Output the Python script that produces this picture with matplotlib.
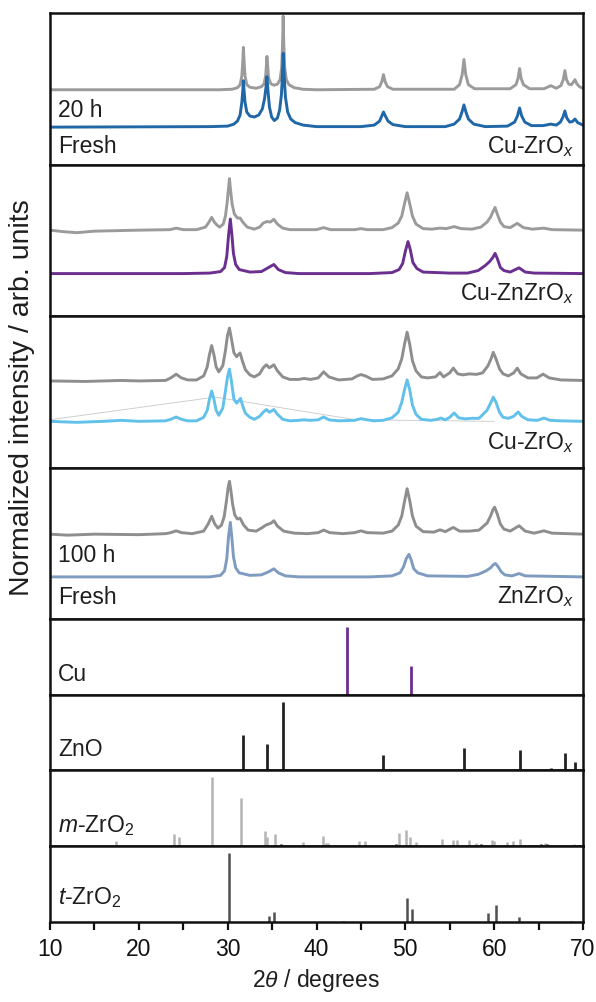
import matplotlib
matplotlib.use("Agg")
import matplotlib.pyplot as plt
from matplotlib.ticker import MultipleLocator

plt.rcParams['font.family'] = ['Liberation Sans', 'DejaVu Sans']
plt.rcParams['mathtext.fontset'] = 'custom'
plt.rcParams['mathtext.rm'] = 'Liberation Sans'
plt.rcParams['mathtext.it'] = 'Liberation Sans:italic'

# ---------------- data (2theta in degrees, intensity in arb. units) ----------------
# Panel 1: Cu-ZrOx, 20 h (grey) and fresh (blue)
cuzr20_tt = [10, 29, 30.5, 31.1, 31.4, 31.6, 31.7, 31.77, 31.85, 31.95, 32.15, 32.5, 33.2, 33.8, 34.1,
             34.28, 34.36, 34.42, 34.5, 34.6, 34.85, 35.2, 35.6, 35.9, 36.08, 36.18, 36.25, 36.32,
             36.42, 36.6, 36.9, 37.5, 38.5, 40, 46.5, 47.1, 47.35, 47.54, 47.72, 48.0, 48.6, 55.5,
             56.1, 56.4, 56.6, 56.8, 57.1, 57.8, 61.8, 62.45, 62.68, 62.86, 63.04, 63.3, 64, 65.6,
             66.38, 67.0, 67.5, 67.78, 67.96, 68.14, 68.4, 68.7, 68.95, 69.1, 69.3, 69.6, 70]
cuzr20_int = [0, 0, 0.5, 2, 5, 14, 28, 42, 28, 14, 5, 2.5, 1.5, 3, 6,
              14, 24, 33, 24, 12, 6, 4.5, 5.5, 10, 22, 45, 73, 45,
              22, 10, 5, 2, 0.5, 0, 0.5, 3, 8, 15, 8, 3, 0.5, 0.5,
              5, 15, 30, 15, 5, 1, 1, 5, 11, 21, 11, 5, 1, 1,
              4, 1.5, 4, 10, 19, 10, 5.5, 5, 8, 10, 6, 3, 1.5]
cuzrf_tt = [10, 28, 30.0, 30.7, 31.1, 31.4, 31.6, 31.7, 31.77, 31.85, 31.95, 32.15, 32.5, 33.0, 33.5,
            33.9, 34.15, 34.32, 34.42, 34.52, 34.7, 34.95, 35.25, 35.6, 35.85, 36.05, 36.17, 36.25,
            36.35, 36.5, 36.75, 37.1, 37.6, 38.5, 40, 45, 46.5, 47.1, 47.35, 47.54, 47.75, 48.05,
            48.6, 50, 54.5, 55.5, 56.1, 56.38, 56.6, 56.82, 57.1, 57.7, 59, 61.5, 62.3, 62.62,
            62.86, 63.1, 63.45, 64.2, 65.5, 66.38, 67.0, 67.45, 67.75, 67.96, 68.18, 68.5, 68.8,
            69.1, 69.4, 70]
cuzrf_int = [0, 0.5, 1, 3, 6, 12, 25, 36, 46, 36, 25, 15, 11, 10, 12,
             18, 28, 40, 50, 38, 20, 10, 6.5, 9, 17, 32, 52, 73,
             52, 30, 15, 8, 4.5, 2, 0.5, 0.5, 2, 6, 11, 15, 11, 6,
             2.5, 0.5, 0.5, 3, 8, 15, 22, 15, 8, 3, 0.5, 1, 5, 11,
             19, 11, 5, 1.5, 1.5, 3, 2, 5, 10, 16, 9, 5, 5.5,
             8, 4.5, 2]

# Panel 2: Cu-ZnZrOx, used (grey) and fresh (purple)
cuznzr_u_tt = [10, 11.5, 13, 15, 20, 23.5, 24.2, 25, 26.5, 27.5, 27.9, 28.2, 28.5, 28.8, 29.1, 29.5,
               29.75, 29.95, 30.1, 30.2, 30.32, 30.5, 30.75, 31.1, 31.4, 31.7, 32.2, 33, 33.6, 34.0,
               34.4, 34.8, 35.2, 35.6, 36.2, 37, 40, 40.8, 41.6, 44.3, 45.0, 45.7, 47.5, 48.5, 49.2,
               49.6, 49.9, 50.2, 50.5, 50.8, 51.2, 52, 53, 53.9, 54.6, 55.5, 56.3, 57.5, 58.5, 59.2,
               59.6, 59.85, 60.1, 60.35, 60.7, 61.1, 61.8, 62.6, 63.3, 64.3, 65.6, 66.5, 70]
cuznzr_u_int = [0, -1.5, -2.5, -1, 0, 0.5, 2, 0.5, 0.5, 3, 8, 12.7, 8, 5, 3, 6,
                14, 28, 42, 51, 40, 26, 16, 12, 12, 8, 3, 1, 3, 7,
                8.5, 8, 10.7, 6, 2, 0.5, 0.5, 2.5, 0.5, 0.5, 1.5, 0.5, 0.5, 2.5, 7,
                14, 26, 37, 26, 14, 6, 1.5, 1, 2, 1.5, 3.5, 1.5, 1, 3, 8,
                13, 18, 22.5, 16, 8, 3.5, 2.5, 6.7, 2.5, 1, 2, 0.5, 0]
cuznzr_f_tt = [10, 25, 28, 29.2, 29.65, 29.9, 30.1, 30.3, 30.48, 30.65, 30.9, 31.3, 32.5, 33.8, 34.6,
               35.2, 35.7, 36.5, 38, 46, 48.5, 49.3, 49.7, 50.0, 50.3, 50.55, 50.85, 51.3, 52, 55,
               57, 58.2, 59.0, 59.5, 59.85, 60.1, 60.35, 60.7, 61.1, 61.8, 62.8, 63.5, 64.5, 70]
cuznzr_f_int = [0, 0, 0.5, 2, 6, 17, 38, 54, 38, 20, 9, 4, 1.5, 2, 6,
                9, 4, 1, 0, 0, 1, 4, 10, 22, 31.7, 24, 11, 5, 1.5, 0.5,
                0.5, 3, 8, 12, 16, 20, 15, 6, 3, 1.5, 5.7, 1.5, 0.5, 0]

# Panel 3: Cu-ZrOx, used (grey) and fresh (light blue)
cuzrox_u_tt = [10, 14, 18, 20, 23, 23.6, 24.2, 24.8, 25.5, 26.5, 27.3, 27.7, 27.95, 28.2, 28.45, 28.7,
               29.0, 29.45, 29.75, 29.98, 30.2, 30.42, 30.7, 31.0, 31.2, 31.4, 31.65, 32.0, 32.5, 33,
               33.6, 34.0, 34.35, 34.7, 35.2, 35.6, 36.2, 37, 38.0, 38.6, 39.3, 40.2, 40.8, 41.4,
               42.5, 44, 44.6, 45.0, 45.5, 46.3, 47.5, 48.5, 49.2, 49.6, 49.9, 50.2, 50.5, 50.8,
               51.2, 51.8, 52.5, 53.4, 53.9, 54.3, 55.0, 55.4, 55.9, 56.5, 57.2, 58.0, 58.7, 59.3,
               59.65, 59.9, 60.2, 60.6, 61.0, 61.6, 62.2, 62.6, 63.0, 63.8, 64.8, 65.5, 66.2, 67.5, 70]
cuzrox_u_int = [0, -0.5, 0.5, 0, 0.5, 3, 6.7, 3, 1, 1, 5, 14, 26, 35, 26, 14,
                9, 15, 30, 45, 52.3, 42, 28, 24, 26, 27.7, 20, 11, 6, 4,
                7, 13, 16, 13, 16, 10, 4, 1.5, 1.5, 2.5, 1.5, 3, 9, 4,
                1, 2, 5, 6.3, 5, 1.5, 2, 5, 12, 22, 36, 48.3, 36, 20,
                10, 4, 3, 4, 8.3, 4, 8, 12.7, 7, 6, 7, 6.5, 8, 15,
                22, 28.3, 22, 12, 7, 5, 8, 12.7, 7, 3, 3, 6.7, 3, 1, 0.5]
cuzrox_f_tt = [10, 13, 16, 18, 20, 23, 23.6, 24.2, 24.8, 25.5, 26.5, 27.3, 27.7, 27.95, 28.2, 28.45,
               28.7, 29.0, 29.45, 29.75, 29.98, 30.2, 30.42, 30.7, 31.0, 31.2, 31.45, 31.7, 32.0,
               32.5, 33, 33.6, 34.0, 34.35, 34.7, 35.2, 35.6, 36.2, 37, 38.0, 38.6, 39.3, 40.2, 40.8,
               41.4, 42.5, 44.3, 45.0, 45.7, 46.5, 47.5, 48.5, 49.2, 49.6, 49.9, 50.2, 50.5, 50.8,
               51.2, 51.8, 52.8, 53.6, 54.0, 54.5, 55.0, 55.5, 56.0, 56.7, 57.5, 58.3, 59.2, 59.6,
               59.9, 60.2, 60.6, 61.0, 61.6, 62.2, 62.7, 63.1, 63.8, 64.9, 65.6, 66.3, 67.5, 70]
cuzrox_f_int = [0, -1, 0, 1, 0, 0.5, 2, 4.3, 2, 0.5, 0.5, 4, 11, 22, 30, 22,
                11, 6, 13, 30, 44, 51.7, 40, 22, 18, 20, 22.7, 15, 8,
                4, 2, 5, 9, 11.7, 9, 11.7, 7, 2, 0.5, 1, 1.5, 1, 1.5, 4.3,
                1.5, 0.5, 1, 2.7, 1.5, 0.5, 1, 3.5, 9, 19, 31, 41, 31, 16,
                7, 2, 1, 2, 3.3, 1.5, 4, 8.3, 3.5, 2.5, 3, 3, 11, 18,
                24, 19, 9, 4, 3, 5, 9.3, 5, 1.5, 1, 3.3, 1, 0.5, 0]
# thin guide line seen in panel 3
guide_tt = [10, 28.6, 44.4, 60.0]
guide_int = [47.3, 69.7, 47.3, 45.7]

# Panel 4: ZnZrOx, 100 h (grey) and fresh (slate blue)
znzr_u_tt = [10, 12, 15, 20, 23, 23.6, 24.2, 24.8, 26, 27.3, 27.8, 28.2, 28.55, 28.9, 29.3, 29.6,
             29.85, 30.05, 30.2, 30.35, 30.55, 30.8, 31.1, 31.4, 31.8, 32.3, 33.2, 33.8, 34.3, 34.6,
             34.9, 35.2, 35.6, 36.3, 37.5, 39, 40.2, 40.8, 41.5, 43, 44.3, 45.0, 45.7, 47.5, 48.5,
             49.2, 49.6, 49.9, 50.2, 50.5, 50.8, 51.2, 52, 53.2, 53.9, 54.5, 55.4, 56.1, 57.2, 58.3,
             59.2, 59.6, 59.85, 60.05, 60.35, 60.7, 61.1, 61.8, 62.8, 63.5, 64.5, 65.6, 66.5, 70]
znzr_u_int = [0, -1, 0, -0.5, 0.5, 1.5, 3.3, 1.5, 0.5, 3, 10, 17.7, 10, 6, 9, 17,
              32, 46, 52.3, 44, 30, 19, 15, 15.7, 9, 4, 3, 6, 9, 10,
              11, 13.3, 8, 3, 1, 0.5, 1.5, 4, 1.5, 0.5, 1.5, 3.3, 1.5, 1, 3,
              9, 18, 32, 45, 33, 18, 8, 2.5, 2, 4.3, 2.5, 6.7, 3, 3, 4,
              11, 18, 24, 26.7, 20, 10, 5, 3, 8.3, 3, 1, 3.3, 1, 0]
znzr_f_tt = [10, 28, 29.2, 29.65, 29.9, 30.1, 30.3, 30.48, 30.65, 30.9, 31.3, 32.5, 33.8, 34.6, 35.2,
             35.7, 36.5, 38, 46, 48.5, 49.4, 49.8, 50.1, 50.4, 50.65, 50.95, 51.4, 52.5, 57, 58.2,
             59.1, 59.6, 59.9, 60.15, 60.45, 60.8, 61.2, 62.0, 62.8, 63.5, 70]
znzr_f_int = [0, 0, 1.5, 6, 18, 40, 54, 38, 20, 9, 4, 1.5, 2, 5, 8,
              4, 1, 0, 0, 1, 4, 10, 18, 22.3, 17, 8, 4, 1, 0.5, 2.5,
              6, 9, 12, 13.3, 10, 5, 2, 1, 3.3, 1, 0]

# Reference stick patterns
cu_ref_tt = [43.4, 50.6]
cu_ref_int = [68, 29]
zno_ref_tt = [31.77, 34.42, 36.25, 47.54, 56.60, 62.86, 66.38, 67.96, 69.10]
zno_ref_int = [36, 27, 69, 16, 23, 21, 3, 18, 9]
mzr_ref_tt = [17.4, 24.0, 24.5, 28.2, 31.5, 34.2, 34.4, 35.3, 38.5, 40.7, 41.1, 41.3, 44.8, 45.5,
              49.3, 50.1, 50.5, 51.2, 54.1, 55.4, 55.8, 57.2, 57.9, 59.8, 60.0, 61.4, 62.1, 62.9,
              65.7, 69.0]
mzr_ref_int = [5, 12.3, 9, 69, 48.7, 15, 9.3, 12, 4.3, 10.3, 3.7, 3.7, 5.3, 5.3,
               13.7, 16.7, 9, 4.3, 7.7, 6.7, 6.7, 6, 3.7, 6.7, 5.3, 4.3, 5, 7.7,
               3.3, 2.3]
mzr_minor_tt = [36.0, 39.5, 40.0, 48.9, 55.0, 58.5, 64.2, 64.6, 65.3, 66.0, 69.6]
mzr_minor_int = [2.5, 1.5, 1.5, 2, 1.5, 2.5, 1.5, 1.5, 2, 2, 1.5]
tzr_ref_tt = [30.2, 34.6, 35.2, 43.0, 50.2, 50.7, 59.3, 60.2, 62.8, 68.6]
tzr_ref_int = [69.4, 6, 10, 1, 24, 12.7, 9, 16.7, 4.7, 1]

# ---------------- figure ----------------
W, H = 596, 1003
fig = plt.figure(figsize=(W / 100, H / 100), dpi=100)
gs = fig.add_gridspec(8, 1, height_ratios=[2, 2, 2, 2, 1, 1, 1, 1], hspace=0,
                      left=50 / W, right=583 / W, top=1 - 14 / H, bottom=1 - 923 / H)
axes = [fig.add_subplot(gs[i]) for i in range(8)]

GREY = '#9b9b9b'
GREY3 = '#8e8e8e'
BLUE = '#1f67a6'
PURPLE = '#6a2f8f'
CYAN = '#62c1ea'
SLATE = '#7f9bbf'
TXT = '#1e1e1e'
FS = 16.5
LW = 2.1

for ax in axes:
    ax.set_xlim(10, 70)
    ax.set_yticks([])
    for s in ax.spines.values():
        s.set_linewidth(1.8)
        s.set_color('#111111')
    ax.tick_params(axis='x', which='both', bottom=False, labelbottom=False)
for ax in axes[:4]:
    ax.set_ylim(0, 150)
for ax in axes[4:]:
    ax.set_ylim(0, 76)


def offset(vals, base):
    return [v + base for v in vals]


# panel 1
a = axes[0]
a.plot(cuzr20_tt, offset(cuzr20_int, 74), color=GREY, lw=LW)
a.plot(cuzrf_tt, offset(cuzrf_int, 37), color=BLUE, lw=LW)
a.text(10.9, 48, '20 h', fontsize=FS, color=TXT, va='baseline')
a.text(10.9, 12.3, 'Fresh', fontsize=FS, color=TXT, va='baseline')
a.text(69.0, 12.3, 'Cu-ZrO$_{x}$', fontsize=FS, color=TXT, va='baseline', ha='right')

# panel 2
a = axes[1]
a.plot(cuznzr_u_tt, offset(cuznzr_u_int, 85), color=GREY, lw=LW)
a.plot(cuznzr_f_tt, offset(cuznzr_f_int, 42), color=PURPLE, lw=LW)
a.text(69.0, 17, 'Cu-ZnZrO$_{x}$', fontsize=FS, color=TXT, va='baseline', ha='right')

# panel 3
a = axes[2]
a.plot(guide_tt, guide_int, color='#c8c8c8', lw=0.6)
a.plot(cuzrox_u_tt, offset(cuzrox_u_int, 85.7), color=GREY3, lw=LW)
a.plot(cuzrox_f_tt, offset(cuzrox_f_int, 45.7), color=CYAN, lw=LW)
a.text(69.0, 19, 'Cu-ZrO$_{x}$', fontsize=FS, color=TXT, va='baseline', ha='right')

# panel 4
a = axes[3]
a.plot(znzr_u_tt, offset(znzr_u_int, 84), color=GREY3, lw=LW)
a.plot(znzr_f_tt, offset(znzr_f_int, 41.7), color=SLATE, lw=LW)
a.text(10.9, 57.3, '100 h', fontsize=FS, color=TXT, va='baseline')
a.text(10.9, 16.3, 'Fresh', fontsize=FS, color=TXT, va='baseline')
a.text(69.0, 16.3, 'ZnZrO$_{x}$', fontsize=FS, color=TXT, va='baseline', ha='right')

# stick panels
a = axes[4]
a.vlines(cu_ref_tt, 0, cu_ref_int, color=PURPLE, lw=2.0)
a.text(10.9, 14.3, 'Cu', fontsize=FS, color=TXT, va='baseline')

a = axes[5]
a.vlines(zno_ref_tt, 0, zno_ref_int, color='#222222', lw=2.0)
a.text(10.9, 15.3, 'ZnO', fontsize=FS, color=TXT, va='baseline')

a = axes[6]
a.vlines(mzr_ref_tt, 0, mzr_ref_int, color='#b4b4b4', lw=1.8)
a.vlines(mzr_minor_tt, 0, mzr_minor_int, color='#111111', lw=1.8)
a.text(10.9, 15.3, '$m$-ZrO$_{2}$', fontsize=FS, color=TXT, va='baseline')

a = axes[7]
a.vlines(tzr_ref_tt, 0, tzr_ref_int, color='#4f4f4f', lw=1.8)
a.text(10.9, 19.3, '$t$-ZrO$_{2}$', fontsize=FS, color=TXT, va='baseline')

# bottom axis
ab = axes[7]
ab.tick_params(axis='x', which='both', bottom=True, labelbottom=True, direction='out',
               width=1.6, labelsize=FS, pad=5, colors='#111111')
ab.tick_params(axis='x', which='major', length=6)
ab.tick_params(axis='x', which='minor', length=6)
ab.xaxis.set_major_locator(MultipleLocator(10))
ab.xaxis.set_minor_locator(MultipleLocator(5))
ab.set_xlabel('2$\\theta$ / degrees', fontsize=FS, color=TXT, labelpad=4)

fig.text(22 / W, 1 - 398 / H, 'Normalized intensity / arb. units', rotation=90,
         fontsize=20.5, color=TXT, ha='center', va='center')

fig.savefig('out.png', dpi=100)
